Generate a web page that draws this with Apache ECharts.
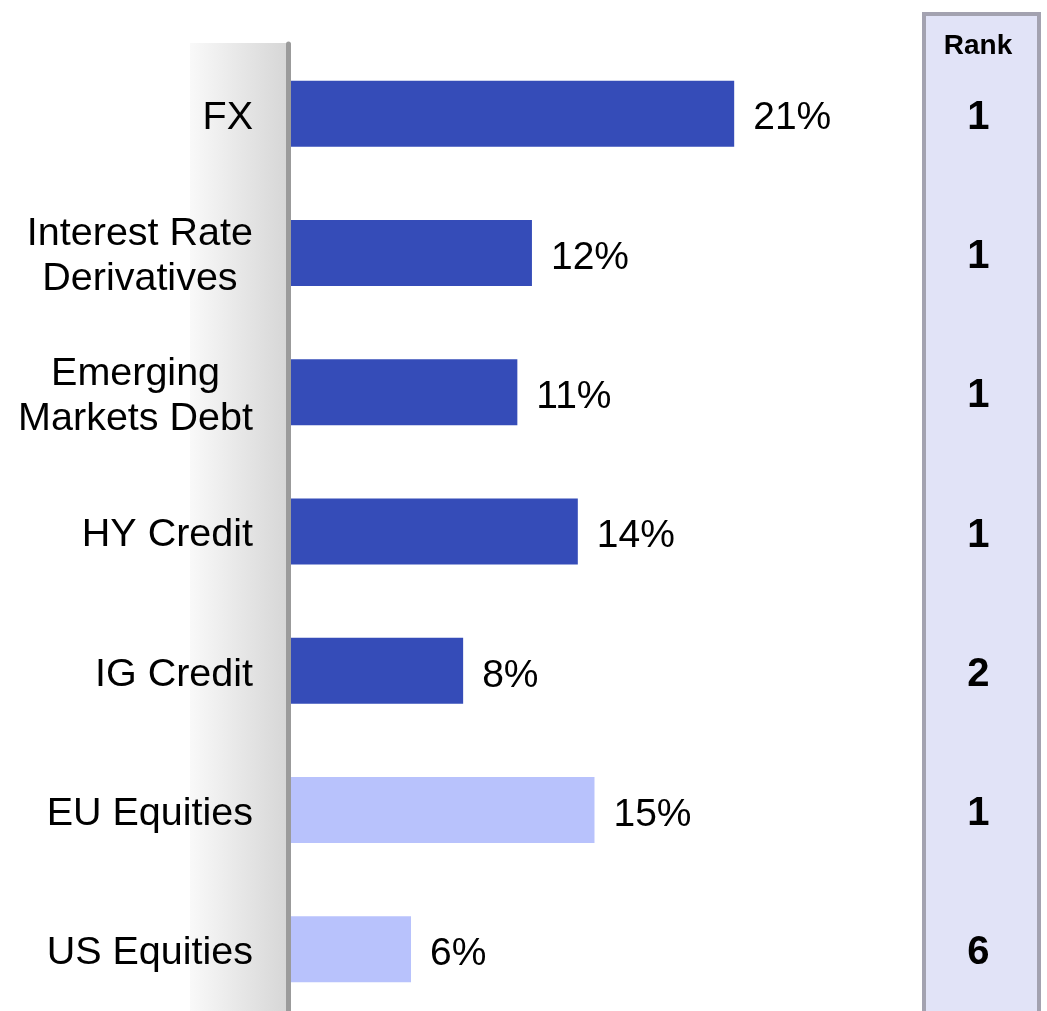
<!DOCTYPE html>
<html>
<head>
<meta charset="utf-8">
<script src="https://cdn.jsdelivr.net/npm/echarts@6/dist/echarts.min.js"></script>
<style>
html,body{margin:0;padding:0;background:#fff;}
#chart{width:1047px;height:1011px;}
</style>
</head>
<body>
<div id="chart"></div>
<script>
// Data
var categories = ['FX', 'Interest Rate\nDerivatives', 'Emerging\nMarkets Debt', 'HY Credit', 'IG Credit', 'EU Equities', 'US Equities'];
var shares = [21.4, 11.7, 11.0, 13.9, 8.4, 14.7, 5.9];
var groups = ['FICC', 'FICC', 'FICC', 'FICC', 'FICC', 'Equities', 'Equities'];
var ranks = [1, 1, 1, 1, 2, 1, 6];
var rankTitle = 'Rank';

var FONT = '"Liberation Sans", Arial, Helvetica, sans-serif';
var groupColors = { FICC: '#354cb8', Equities: '#b8c2fc' };

var chart = echarts.init(document.getElementById('chart'), null, { renderer: 'canvas' });

var option = {
  backgroundColor: '#ffffff',
  animation: false,
  graphic: [
    {
      type: 'rect', z: -10,
      shape: { x: 190, y: 43, width: 98, height: 980 },
      style: {
        fill: new echarts.graphic.LinearGradient(0, 0, 1, 0, [
          { offset: 0, color: '#f9f9f9' },
          { offset: 1, color: '#d6d6d6' }
        ])
      }
    },
    {
      type: 'rect', z: -10,
      shape: { x: 924, y: 14, width: 115, height: 1010 },
      style: { fill: '#e1e3f7', stroke: '#a3a2b0', lineWidth: 4 }
    },
    {
      type: 'text', z: 10,
      x: 978, y: 46,
      style: {
        text: rankTitle, align: 'center', verticalAlign: 'middle',
        font: 'bold 28px ' + FONT, fill: '#000'
      }
    }
  ],
  grid: { left: 288, top: 44, width: 521.25, height: 975, containLabel: false, outerBoundsMode: 'none' },
  xAxis: { type: 'value', min: 0, max: 25, show: false },
  yAxis: [
    {
      type: 'category', data: categories, inverse: true, position: 'left', z: 5,
      axisLine: { show: true, lineStyle: { color: '#9b9b9b', width: 5 } },
      axisTick: { show: false },
      splitLine: { show: false },
      axisLabel: {
        margin: 35, align: 'right', padding: [8, 0, 0, 0],
        formatter: function (v) {
          return v.split('\n').map(function (s) { return '{c|' + s + '}'; }).join('\n');
        },
        rich: { c: { fontSize: 39.5, lineHeight: 45, align: 'center', color: '#000', fontFamily: FONT } }
      }
    },
    {
      type: 'category', data: categories, inverse: true, position: 'right',
      axisLine: { show: false }, axisTick: { show: false }, splitLine: { show: false },
      axisLabel: {
        margin: 169, align: 'center', padding: [8, 0, 0, 0],
        formatter: function (v, i) { return '{r|' + ranks[i] + '}'; },
        rich: { r: { color: '#000', fontSize: 40, fontWeight: 'bold', fontFamily: FONT, lineHeight: 46, align: 'center' } }
      }
    }
  ],
  series: [
    {
      type: 'bar', barWidth: 66,
      data: shares.map(function (v, i) {
        return { value: v, itemStyle: { color: groupColors[groups[i]] } };
      }),
      label: {
        show: true, position: 'right', distance: 19, offset: [0, 5],
        color: '#000', fontSize: 39, fontFamily: FONT,
        formatter: function (p) { return Math.round(p.value) + '%'; }
      }
    }
  ]
};
chart.setOption(option);
</script>
</body>
</html>
